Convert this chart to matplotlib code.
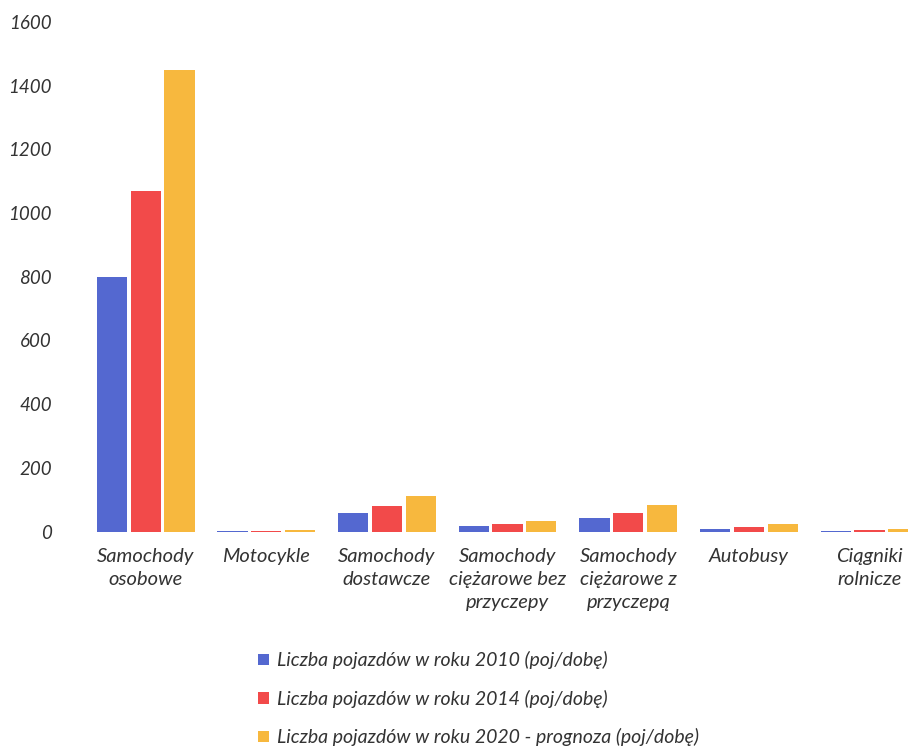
import matplotlib.pyplot as plt
import numpy as np

plt.rcParams['font.family'] = ['Lato', 'DejaVu Sans']

categories = ["Samochody\nosobowe", "Motocykle", "Samochody\ndostawcze",
              "Samochody\nciężarowe bez\nprzyczepy", "Samochody\nciężarowe z\nprzyczepą",
              "Autobusy", "Ciągniki\nrolnicze"]
v2010 = [800, 1, 60, 18, 44, 10, 3]
v2014 = [1070, 3, 82, 24, 60, 15, 5]
v2020 = [1450, 5, 113, 35, 85, 24, 8]
labels = ["Liczba pojazdów w roku 2010 (poj/dobę)",
          "Liczba pojazdów w roku 2014 (poj/dobę)",
          "Liczba pojazdów w roku 2020 - prognoza (poj/dobę)"]
colors = ["#5468d0", "#f24a4a", "#f7b83e"]

fig = plt.figure(figsize=(9.08, 7.51), dpi=100)
ax = fig.add_axes([0.094, 0.292, 0.93, 0.679])

x = np.arange(len(categories))
w = 0.25
for off, vals, c, lab in zip([-0.28, 0, 0.28], [v2010, v2014, v2020], colors, labels):
    ax.bar(x + off, vals, w, color=c, label=lab)

ax.set_xlim(-0.5, len(categories) - 0.5)
ax.set_ylim(0, 1600)
ax.set_yticks(np.arange(0, 1601, 200))
ax.set_xticks(x)
ax.set_xticklabels(categories, style='italic', fontsize=14.5, color='#333333', linespacing=1.4)
for t in ax.get_yticklabels():
    t.set_fontstyle('italic')
    t.set_fontsize(13.5)
    t.set_color('#333333')
ax.tick_params(length=0, pad=12)
ax.tick_params(axis='y', pad=24)
for s in ax.spines.values():
    s.set_visible(False)

leg = fig.legend(loc='upper left', bbox_to_anchor=(0.276, 0.143), frameon=False,
                 prop={'style': 'italic', 'size': 14}, handlelength=0.55, handleheight=0.55,
                 handletextpad=0.4, labelspacing=1.05, borderaxespad=0)
for t in leg.get_texts():
    t.set_color('#333333')

fig.savefig("out.png", dpi=100)
